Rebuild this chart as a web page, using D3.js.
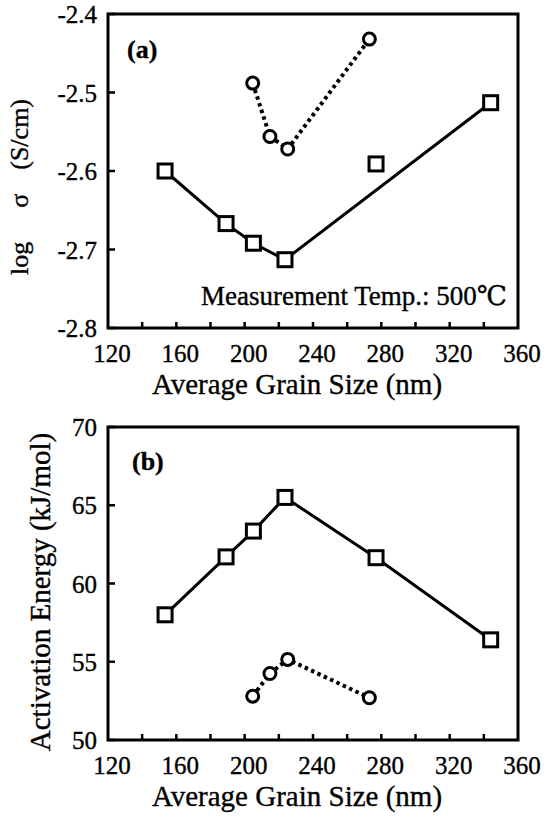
<!DOCTYPE html>
<html>
<head>
<meta charset="utf-8">
<script src="https://cdn.jsdelivr.net/npm/d3@7"></script>
<style>
  html, body { margin: 0; padding: 0; background: #fff; }
  svg { display: block; }
  svg text { stroke: #000; stroke-width: 0.35px; }
</style>
</head>
<body>
<svg id="chart" width="547" height="818" font-family="'Liberation Serif', 'Times New Roman', Times, 'DejaVu Serif', serif"></svg>
<script>
// ---- data ----
const xTicks = [120, 160, 200, 240, 280, 320, 360];
const xMinorTicks = [140, 160, 180, 200, 220, 240, 260, 280, 300, 320, 340];
const yTicksA = [-2.8, -2.7, -2.6, -2.5, -2.4];
const yTicksB = [50, 55, 60, 65, 70];

const grainSq = [153.4, 189.1, 205.1, 223.6, 276.9, 344.0];
const sigmaSq = [-2.600, -2.667, -2.692, -2.713, -2.591, -2.513];
const lineIdxA = [0, 1, 2, 3, 5];           // solid line in (a) skips the 277 nm point
const grainCirc = [204.7, 214.8, 225.2, 273.0];
const sigmaCirc = [-2.488, -2.556, -2.572, -2.432];

const energySq = [58.0, 61.7, 63.35, 65.5, 61.65, 56.4];
const energyCirc = [52.8, 54.25, 55.15, 52.7];

const FONT = "'Liberation Serif', 'Times New Roman', Times, 'DejaVu Serif', serif";
const svg = d3.select("#chart");

function panel(opts) {
  const g = svg.append("g").attr("font-family", FONT);
  const x = d3.scaleLinear().domain([120, 360]).range([108, 518]);
  const y = d3.scaleLinear().domain(opts.yDomain).range([opts.bottom, opts.top]);

  g.append("rect")
    .attr("x", x(120)).attr("y", opts.top)
    .attr("width", x(360) - x(120)).attr("height", opts.bottom - opts.top)
    .attr("fill", "none").attr("stroke", "#000").attr("stroke-width", 3);

  g.append("g").selectAll("line").data(xMinorTicks).join("line")
    .attr("x1", d => x(d)).attr("x2", d => x(d))
    .attr("y1", opts.bottom).attr("y2", opts.bottom - 6)
    .attr("stroke", "#000").attr("stroke-width", 2.5);

  g.append("g").selectAll("line").data(opts.yTicks).join("line")
    .attr("x1", x(120)).attr("x2", x(120) + 7)
    .attr("y1", d => y(d)).attr("y2", d => y(d))
    .attr("stroke", "#000").attr("stroke-width", 2.5);

  g.append("g").selectAll("text").data(xTicks).join("text")
    .attr("font-family", FONT)
    .attr("x", d => x(d) + 4).attr("y", opts.bottom + 34)
    .attr("text-anchor", "middle").attr("font-size", 25)
    .text(d => d);

  g.append("g").selectAll("text").data(opts.yTicks).join("text")
    .attr("font-family", FONT)
    .attr("x", 97).attr("y", d => y(d) + 9)
    .attr("text-anchor", "end").attr("font-size", 25)
    .text(opts.yFormat);

  g.append("text")
    .attr("font-family", FONT)
    .attr("x", 297).attr("y", opts.bottom + 66)
    .attr("text-anchor", "middle").attr("font-size", 29)
    .text("Average Grain Size (nm)");

  return { g, x, y };
}

// ---------- panel (a) ----------
const A = panel({ top: 14, bottom: 328, yDomain: [-2.8, -2.4], yTicks: yTicksA,
                  yFormat: d => d.toFixed(1) });

const solidA = d3.line().x(i => A.x(grainSq[i])).y(i => A.y(sigmaSq[i]));
A.g.append("path").attr("d", solidA(lineIdxA))
  .attr("fill", "none").attr("stroke", "#000").attr("stroke-width", 3);

const dotA = d3.line().x(i => A.x(grainCirc[i])).y(i => A.y(sigmaCirc[i]));
A.g.append("path").attr("d", dotA(d3.range(grainCirc.length)))
  .attr("fill", "none").attr("stroke", "#000").attr("stroke-width", 4)
  .attr("stroke-dasharray", "3.5,3.5");

A.g.append("g").selectAll("rect").data(d3.range(grainSq.length)).join("rect")
  .attr("x", i => A.x(grainSq[i]) - 7).attr("y", i => A.y(sigmaSq[i]) - 7)
  .attr("width", 14).attr("height", 14)
  .attr("fill", "#fff").attr("stroke", "#000").attr("stroke-width", 3);

A.g.append("g").selectAll("circle").data(d3.range(grainCirc.length)).join("circle")
  .attr("cx", i => A.x(grainCirc[i])).attr("cy", i => A.y(sigmaCirc[i]))
  .attr("r", 6).attr("fill", "#fff").attr("stroke", "#000").attr("stroke-width", 3);

A.g.append("text").attr("font-family", FONT).attr("x", 127).attr("y", 58)
  .attr("font-size", 26).attr("font-weight", "bold").text("(a)");

A.g.append("text").attr("font-family", FONT).attr("x", 507).attr("y", 305)
  .attr("text-anchor", "end").attr("font-size", 27)
  .text("Measurement Temp.: 500\u2103");

const yl = A.g.append("text").attr("font-family", FONT)
  .attr("transform", "translate(28,275) rotate(-90)")
  .attr("font-size", 26);
yl.append("tspan").text("log");
yl.append("tspan").attr("dx", 34).text("\u03C3");
yl.append("tspan").attr("dx", 24).text("(S/cm)");

// ---------- panel (b) ----------
const B = panel({ top: 427, bottom: 740, yDomain: [50, 70], yTicks: yTicksB,
                  yFormat: d => d });

const solidB = d3.line().x(i => B.x(grainSq[i])).y(i => B.y(energySq[i]));
B.g.append("path").attr("d", solidB(d3.range(grainSq.length)))
  .attr("fill", "none").attr("stroke", "#000").attr("stroke-width", 3);

const dotB = d3.line().x(i => B.x(grainCirc[i])).y(i => B.y(energyCirc[i]));
B.g.append("path").attr("d", dotB(d3.range(grainCirc.length)))
  .attr("fill", "none").attr("stroke", "#000").attr("stroke-width", 4)
  .attr("stroke-dasharray", "3.5,3.5");

B.g.append("g").selectAll("rect").data(d3.range(grainSq.length)).join("rect")
  .attr("x", i => B.x(grainSq[i]) - 7).attr("y", i => B.y(energySq[i]) - 7)
  .attr("width", 14).attr("height", 14)
  .attr("fill", "#fff").attr("stroke", "#000").attr("stroke-width", 3);

B.g.append("g").selectAll("circle").data(d3.range(grainCirc.length)).join("circle")
  .attr("cx", i => B.x(grainCirc[i])).attr("cy", i => B.y(energyCirc[i]))
  .attr("r", 6).attr("fill", "#fff").attr("stroke", "#000").attr("stroke-width", 3);

B.g.append("text").attr("font-family", FONT).attr("x", 132).attr("y", 470)
  .attr("font-size", 26).attr("font-weight", "bold").text("(b)");

B.g.append("text").attr("font-family", FONT)
  .attr("transform", "translate(50,592) rotate(-90)")
  .attr("text-anchor", "middle").attr("font-size", 29)
  .text("Activation Energy (kJ/mol)");
</script>
</body>
</html>
